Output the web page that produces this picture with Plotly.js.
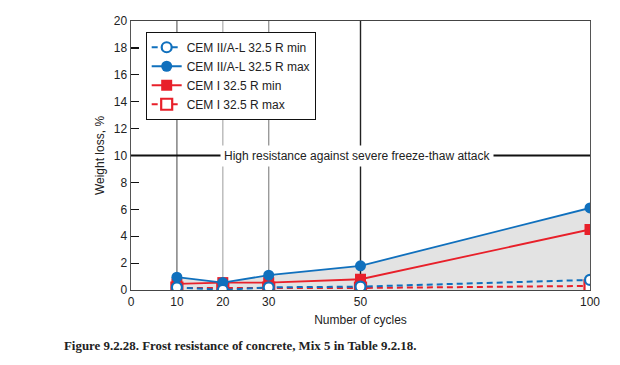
<!DOCTYPE html>
<html>
<head>
<meta charset="utf-8">
<script src="https://cdn.plot.ly/plotly-3.0.1.min.js"></script>
<style>html,body{margin:0;padding:0;background:#fff;}#chart{width:620px;height:365px;}</style>
</head>
<body>
<div id="chart"></div>
<script>
// Data
const cycles = [10, 20, 30, 50, 100];
const cem2Min = [0.2, 0.0, 0.2, 0.25, 0.75];
const cem2Max = [0.95, 0.55, 1.1, 1.8, 6.1];
const cem1Min = [0.45, 0.55, 0.55, 0.8, 4.5];
const cem1Max = [0.15, 0.15, 0.15, 0.15, 0.3];
const xTicks = [0, 10, 20, 30, 50, 100];
const yTicks = [0, 2, 4, 6, 8, 10, 12, 14, 16, 18, 20];
const seriesNames = ['CEM II/A-L 32.5 R min', 'CEM II/A-L 32.5 R max', 'CEM I 32.5 R min', 'CEM I 32.5 R max'];
const thresholdValue = 10;
const thresholdText = 'High resistance against severe freeze-thaw attack';
const xTitle = 'Number of cycles';
const yTitle = 'Weight loss, %';
const caption = 'Figure 9.2.28. Frost resistance of concrete, Mix 5 in Table 9.2.18.';

const blue = '#1070bd';
const red = '#e8202a';
const FONT = 'Liberation Sans, Arial, sans-serif';

const traces = [
  { // shaded area under the max curve
    x: cycles, y: cem2Max, type: 'scatter', mode: 'none',
    fill: 'tozeroy', fillcolor: 'rgba(0,0,0,0.11)',
    showlegend: false, hoverinfo: 'skip'
  },
  {
    x: cycles, y: cem1Max, name: seriesNames[3], type: 'scatter', mode: 'lines+markers',
    legendrank: 4,
    line: {color: red, width: 2, dash: '6px,4px'},
    marker: {symbol: 'square', size: 11, color: '#fff', line: {color: red, width: 2.2}}
  },
  {
    x: cycles, y: cem1Min, name: seriesNames[2], type: 'scatter', mode: 'lines+markers',
    legendrank: 3,
    line: {color: red, width: 1.8},
    marker: {symbol: 'square', size: 11, color: red}
  },
  {
    x: cycles, y: cem2Max, name: seriesNames[1], type: 'scatter', mode: 'lines+markers',
    legendrank: 2,
    line: {color: blue, width: 1.8},
    marker: {symbol: 'circle', size: 11, color: blue}
  },
  {
    x: cycles, y: cem2Min, name: seriesNames[0], type: 'scatter', mode: 'lines+markers',
    legendrank: 1,
    line: {color: blue, width: 2, dash: '6px,4px'},
    marker: {symbol: 'circle', size: 10, color: '#fff', line: {color: blue, width: 2.2}}
  }
];

const vLineColors = {10: '#7a7a7a', 20: '#b8b8b8', 30: '#9a9a9a', 50: '#222222'};
const shapes = Object.keys(vLineColors).map(k => ({
  type: 'line', xref: 'x', yref: 'y', layer: 'below',
  x0: +k, x1: +k, y0: 0, y1: 20,
  line: {color: vLineColors[k], width: 1.4}
}));
shapes.push({
  type: 'line', xref: 'x', yref: 'y', layer: 'below',
  x0: 0, x1: 100, y0: thresholdValue, y1: thresholdValue,
  line: {color: '#111', width: 2.2}
});

const layout = {
  width: 620, height: 365,
  margin: {l: 131, r: 30, t: 21, b: 75},
  paper_bgcolor: '#fff', plot_bgcolor: '#fff',
  font: {family: FONT, size: 12, color: '#222'},
  showlegend: true,
  legend: {
    x: 0.032, y: 0.96, xanchor: 'left', yanchor: 'top',
    bordercolor: '#111', borderwidth: 1, bgcolor: '#fff',
    font: {family: FONT, size: 12, color: '#222'},
    tracegroupgap: 0
  },
  xaxis: {
    range: [0, 100], tickvals: xTicks, ticktext: xTicks.map(String),
    showgrid: false, zeroline: false,
    showline: true, linecolor: '#444', linewidth: 1.4, mirror: true,
    ticks: '', tickfont: {family: FONT, size: 12, color: '#222'},
    title: {text: xTitle, font: {family: FONT, size: 12, color: '#222'}, standoff: 8}
  },
  yaxis: {
    range: [0, 20], tickvals: yTicks, ticktext: yTicks.map(String),
    showgrid: false, zeroline: false,
    showline: true, linecolor: '#555', linewidth: 1.4, mirror: true,
    ticks: 'inside', ticklen: 8, tickcolor: '#111', tickwidth: 1.2,
    tickfont: {family: FONT, size: 12, color: '#222'},
    title: {text: yTitle, font: {family: FONT, size: 12, color: '#222'}, standoff: 6}
  },
  shapes: shapes,
  annotations: [
    {
      x: 49.2, y: thresholdValue, xref: 'x', yref: 'y',
      text: thresholdText, showarrow: false,
      bgcolor: '#fff', borderpad: 3,
      font: {family: FONT, size: 12, color: '#222'}
    },
    {
      x: -0.1503, y: -0.208, xref: 'paper', yref: 'paper',
      xanchor: 'left', yanchor: 'middle', showarrow: false,
      text: '<b>' + caption + '</b>',
      font: {family: 'Liberation Serif, Times New Roman, serif', size: 12.9, color: '#222'}
    }
  ]
};

Plotly.newPlot('chart', traces, layout, {displayModeBar: false, staticPlot: true});
</script>
</body>
</html>
